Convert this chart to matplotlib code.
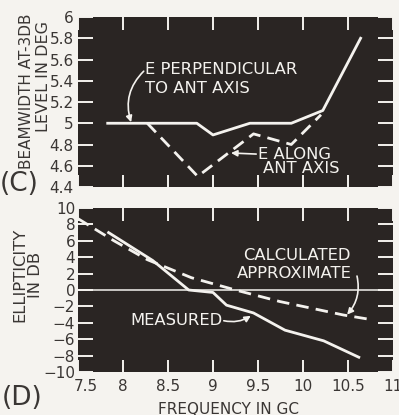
import matplotlib
matplotlib.use("Agg")
import matplotlib.pyplot as plt
import matplotlib.transforms as mtransforms

# --- data ----------------------------------------------------------------
freq_perp = [7.83, 8.82, 9.0, 9.41, 9.87, 10.22, 10.64]
bw_perp = [5.0, 5.0, 4.89, 5.0, 5.0, 5.12, 5.8]
freq_along = [8.27, 8.83, 9.45, 9.87, 10.2]
bw_along = [5.0, 4.5, 4.9, 4.8, 5.08]

freq_meas = [7.84, 8.33, 8.73, 9.0, 9.15, 9.45, 9.8, 10.23, 10.62]
ell_meas = [7.0, 3.6, 0.0, -0.3, -1.85, -2.8, -4.9, -6.2, -8.2]
freq_calc = [7.5, 7.9, 8.27, 8.76, 9.25, 9.74, 10.45, 10.78]
ell_calc = [8.7, 6.0, 3.7, 1.5, 0.0, -1.4, -3.05, -3.65]

x_ticks = [7.5, 8, 8.5, 9, 9.5, 10, 10.5, 11]
x_labels = ["7.5", "8", "8.5", "9", "9.5", "10", "10.5", "11"]
bw_ticks = [4.4, 4.6, 4.8, 5.0, 5.2, 5.4, 5.6, 5.8, 6.0]
bw_labels = ["4.4", "4.6", "4.8", "5", "5.2", "5.4", "5.6", "5.8", "6"]
ell_ticks = [-10, -8, -6, -4, -2, 0, 2, 4, 6, 8, 10]
ell_labels = ["\u221210", "\u22128", "\u22126", "\u22124", "\u22122", "0", "2", "4", "6", "8", "10"]

PAGE = "#f5f3ef"
PANEL = "#2a2523"
LINE = "#f4f2ee"
INK = "#3a3634"
DASH = (0, (4.5, 2.6))
LBL = 11.8

plt.rcParams["font.family"] = "DejaVu Sans"

fig = plt.figure(figsize=(3.99, 4.15), dpi=100, facecolor=PAGE)
W, H = 399.0, 415.0


def px_axes(left, top, right, bottom):
    return fig.add_axes([left / W, 1 - bottom / H, (right - left) / W, (bottom - top) / H])


def style_axes(ax):
    ax.set_facecolor(PANEL)
    for s in ax.spines.values():
        s.set_visible(False)
    ax.tick_params(which="both", direction="in", top=True, right=True, colors=LINE,
                   labelcolor=INK, labelsize=11, width=1.4, pad=3)
    ax.tick_params(axis="y", length=11)
    ax.tick_params(axis="x", length=9)


def fig_text(x, y, s, **kw):
    fig.text(x / W, 1 - y / H, s, color=INK, **kw)


def arrow(ax, tip, tail, rad=0.0):
    ax.annotate("", xy=tip, xytext=tail,
                arrowprops=dict(arrowstyle="-|>", color=LINE, lw=1.2, mutation_scale=9,
                                connectionstyle=f"arc3,rad={rad}", shrinkA=0, shrinkB=0))


# --- (C) beamwidth ---------------------------------------------------------
ax1 = px_axes(78, 17, 393, 187)
style_axes(ax1)
ax1.plot(freq_perp, bw_perp, color=LINE, lw=2.0)
ax1.plot(freq_along, bw_along, color=LINE, lw=2.0, linestyle=DASH)
ax1.set_xlim(7.5, 11)
ax1.set_ylim(4.4, 6.0)
ax1.set_xticks(x_ticks)
ax1.set_xticklabels([])
ax1.set_yticks(bw_ticks)
ax1.set_yticklabels(bw_labels)

ax1.text(8.24, 5.51, "E PERPENDICULAR", color=LINE, fontsize=LBL, va="center", ha="left")
ax1.text(8.24, 5.33, "TO ANT AXIS", color=LINE, fontsize=LBL, va="center", ha="left")
arrow(ax1, (8.09, 5.01), (8.23, 5.49), rad=0.3)
ax1.text(9.5, 4.71, "E ALONG", color=LINE, fontsize=LBL, va="center", ha="left")
ax1.text(9.55, 4.57, "ANT AXIS", color=LINE, fontsize=LBL, va="center", ha="left")
arrow(ax1, (9.2, 4.72), (9.48, 4.71))

fig_text(27, 91, "BEAMWIDTH AT-3DB", rotation=90, ha="center", va="center", fontsize=11)
fig_text(43, 76, "LEVEL IN DEG", rotation=90, ha="center", va="center", fontsize=11.5)
fig_text(19, 184, "(C)", ha="center", va="center", fontsize=19)

# --- (D) ellipticity -------------------------------------------------------
ax2 = px_axes(78, 208, 393, 372)
style_axes(ax2)
ax2.axhline(0, color=LINE, lw=1.1)
ax2.plot(freq_meas, ell_meas, color=LINE, lw=2.0)
ax2.plot(freq_calc, ell_calc, color=LINE, lw=2.0, linestyle=DASH)
ax2.set_xlim(7.5, 11)
ax2.set_ylim(-10, 10)
ax2.set_xticks(x_ticks)
ax2.set_xticklabels(x_labels)
ax2.set_yticks(ell_ticks)
ax2.set_yticklabels(ell_labels)
ax2.tick_params(axis="y", pad=2)
ax2.tick_params(axis="x", pad=5)
first = ax2.get_xticklabels()[0]
first.set_transform(first.get_transform() + mtransforms.ScaledTranslation(8 / 100, 0, fig.dpi_scale_trans))

ax2.text(9.33, 4.15, "CALCULATED", color=LINE, fontsize=LBL, va="center", ha="left")
ax2.text(9.27, 2.04, "APPROXIMATE", color=LINE, fontsize=LBL, va="center", ha="left")
arrow(ax2, (10.49, -3.0), (10.6, 1.7), rad=-0.25)
ax2.text(8.08, -3.78, "MEASURED", color=LINE, fontsize=LBL, va="center", ha="left")
arrow(ax2, (9.42, -3.15), (9.12, -3.75), rad=0.2)

fig_text(20, 275, "ELLIPTICITY", rotation=90, ha="center", va="center", fontsize=11.8)
fig_text(36, 275, "IN DB", rotation=90, ha="center", va="center", fontsize=11.8)
fig_text(22, 398, "(D)", ha="center", va="center", fontsize=19)
fig_text(229, 409, "FREQUENCY IN GC", ha="center", va="center", fontsize=11)

fig.savefig("out.png", dpi=100, facecolor=PAGE)
